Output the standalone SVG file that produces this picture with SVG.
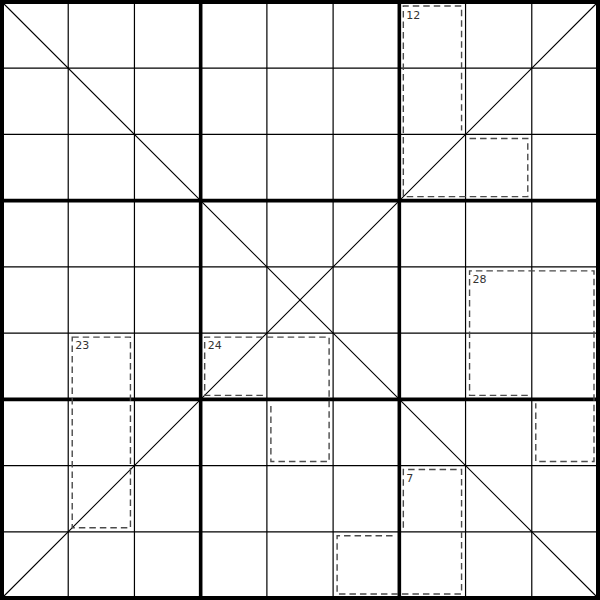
<svg xmlns="http://www.w3.org/2000/svg" width="600" height="600" viewBox="0 0 600 600">
<style>
.thin{stroke:#000;stroke-width:1.2;fill:none}
.thick{stroke:#000;stroke-width:3.6;fill:none}
.diag{stroke:#000;stroke-width:1.1;fill:none}
.cage{stroke:#4a4a4a;stroke-width:1.4;stroke-dasharray:6.5 4;fill:none}
.sum{font-family:"DejaVu Sans","Liberation Sans",sans-serif;font-size:11px;fill:#333}
</style>
<rect width="600" height="600" fill="#fff"/>
<g id="grid">
<path class="thin" d="M68.22,2V598M134.44,2V598M266.89,2V598M333.11,2V598M465.56,2V598M531.78,2V598M2,68.22H598M2,134.44H598M2,266.89H598M2,333.11H598M2,465.56H598M2,531.78H598"/>
<path class="diag" d="M2,2L598,598M598,2L2,598"/>
<path class="thick" d="M200.67,2V598M399.33,2V598M2,200.67H598M2,399.33H598"/>
<rect x="2" y="2" width="596" height="596" fill="none" stroke="#000" stroke-width="4"/>
</g>
<g id="cage-12">
<path class="cage" d="M469.56,138.44H527.78V196.67H403.33V6H461.56V130.44"/>
<text class="sum" x="406.3" y="19">12</text>
</g>
<g id="cage-28">
<path class="cage" d="M527.78,395.33H469.56V270.89H594V461.56H535.78V403.33"/>
<text class="sum" x="472.5" y="283.2">28</text>
</g>
<g id="cage-23">
<path class="cage" d="M72.22,337.11H130.44V527.78H72.22Z"/>
<text class="sum" x="75.2" y="349.4">23</text>
</g>
<g id="cage-24">
<path class="cage" d="M262.89,395.33H204.67V337.11H329.11V461.56H270.89V403.33"/>
<text class="sum" x="207.7" y="349.4">24</text>
</g>
<g id="cage-7">
<path class="cage" d="M403.33,527.78V469.56H461.56V594H337.11V535.78H395.33"/>
<text class="sum" x="406.3" y="481.8">7</text>
</g>
</svg>
